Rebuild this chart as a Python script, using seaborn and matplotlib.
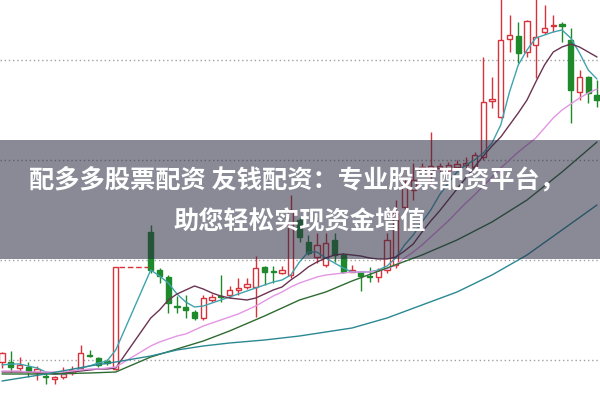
import numpy as np
import pandas as pd
import matplotlib
matplotlib.use('Agg')
import matplotlib.pyplot as plt
import seaborn as sns

nan = np.nan

# daily candles (price units, 3 suspended days as NaN)
opens = [38, 38, 32, 33, 28, 24, 21, 23, 27, 32,
         45, 42, 39, 31, nan, nan, nan, 168, 130, 123,
         94, 93, 88, 82, 100, 104, 105, 110, 113, 113,
         133, 129, 127, 125, 180, 158, 143, 135, 160, 145,
         128, 128, 124, 123, 130, 135, 193, 210, 228, 228,
         232, 230, 233, 235, 233, 243, 299, 283, 361, 364,
         348, 355, 368, 374, 376, 360, 308, 323, 305]
closes = [47, 33, 35, 28, 31, 23, 23, 26, 30, 47,
          44, 35, 37, 133, nan, nan, nan, 130, 124, 97,
          93, 90, 82, 102, 103, 103, 110, 112, 116, 132,
          128, 128, 130, 190, 163, 147, 155, 157, 145, 128,
          130, 124, 123, 130, 160, 187, 215, 220, 233, 234,
          234, 235, 236, 237, 245, 298, 301, 360, 365, 347,
          379, 363, 372, 375, 374, 310, 323, 307, 300]
highs = [48, 49, 43, 38, 34, 28, 24, 33, 34, 55,
         50, 43, 41, 133, nan, nan, nan, 175, 132, 125,
         104, 105, 90, 105, 106, 125, 114, 122, 122, 144,
         134, 134, 134, 205, 183, 165, 167, 167, 167, 147,
         135, 129, 133, 132, 167, 200, 222, 237, 237, 268,
         237, 238, 240, 243, 248, 343, 323, 402, 385, 378,
         380, 402, 395, 385, 378, 372, 330, 324, 320]
lows = [32, 28, 29, 23, 20, 16, 16, 21, 25, 30,
        43, 33, 35, 30, nan, nan, nan, 127, 117, 87,
        87, 82, 80, 80, 98, 98, 102, 105, 111, 83,
        115, 117, 126, 122, 158, 145, 137, 133, 138, 127,
        128, 109, 118, 118, 127, 132, 190, 200, 224, 215,
        228, 225, 230, 232, 232, 240, 292, 282, 348, 337,
        343, 322, 366, 368, 358, 277, 300, 297, 293]

# short moving averages, one value per day
ma5 = [35, 36, 36, 34, 32, 28, 26, 26, 27, 32,
       34, 37, 39, 50, nan, nan, nan, 130, 124, 117,
       106, 98, 93, 94, 97, 100, 103, 106, 109, 112,
       115, 118, 120, 125, 138, 148, 148, 142, 137, 132,
       128, 128, 128, 130, 134, 142, 155, 165, 178, 190,
       205, 217, 228, 235, 240, 247, 257, 275, 308, 335,
       350, 362, 365, 368, 370, 362, 347, 330, 321]
ma10 = [28, 28, 28, 28, 27, 27, 26, 27, 28, 29,
        30, 31, 31, 32, nan, nan, nan, 82, 90, 100,
        106, 110, 114, 111, 107, 104, 102, 101, 100, 102,
        106, 110, 113, 120, 126, 133, 138, 142, 145, 146,
        145, 144, 142, 141, 141, 143, 149, 156, 168, 179,
        189, 200, 211, 222, 233, 244, 254, 263, 275, 287,
        300, 318, 335, 348, 353, 356, 353, 348, 343]
ma20 = [29, 29, 29, 28, 28, 28, 28, 28, 29, 30,
        31, 31, 32, 33, nan, nan, nan, 54, 58, 61,
        64, 66, 70, 74, 77, 80, 83, 86, 90, 94,
        99, 104, 108, 113, 117, 120, 123, 125, 126, 127,
        128, 128, 128, 129, 131, 135, 142, 148, 155, 163,
        171, 179, 188, 197, 205, 214, 223, 232, 240, 248,
        255, 262, 272, 282, 290, 296, 302, 307, 311]

# long moving averages, read at a few days
long_days = [0, 5, 10, 13, 17, 20, 23, 26, 30, 34, 37, 40, 44, 48, 52, 56, 60, 64, 68]
ma30 = [26, 26, 27, 28, 43, 51, 59, 69, 84, 100, 108, 119, 132, 145, 160, 178, 200, 228, 258]
ma60 = [19, 26, 34, 38, 44, 50, 54, 57, 60, 64, 68, 72, 82, 95, 108, 125, 145, 170, 195]

grid_levels = [40, 140, 240, 340]
line1 = '配多多股票配资 友钱配资：专业股票配资平台，'
line2 = '助您轻松实现资金增值'

sns.set_style('white')
plt.rcParams['font.family'] = ['Noto Sans CJK SC', 'DejaVu Sans']

RED = '#d8323c'
GREEN = '#1e8a2c'

df = pd.DataFrame({'open': opens, 'close': closes, 'high': highs, 'low': lows})
df['day'] = np.arange(len(df))
candles = df.dropna()
up = candles['close'] >= candles['open']
colors = np.where(up, RED, GREEN)

fig = plt.figure(figsize=(6, 4), dpi=100)
ax = fig.add_axes([0, 0, 1, 1])

for lvl in grid_levels:
    ax.axhline(lvl, color='#a0a0a0', lw=1, ls=(0, (1, 2)), zorder=1)

# wicks then bodies (hollow red up candles, filled green down candles)
ax.vlines(candles['day'], candles['low'], candles['high'], colors=colors, lw=1, zorder=2)
bottom = candles[['open', 'close']].min(axis=1)
height = (candles['close'] - candles['open']).abs().clip(lower=1)
ax.bar(candles['day'], height, bottom=bottom, width=0.62,
       color=np.where(up, 'white', GREEN), edgecolor=colors, lw=1, zorder=3)

# dashed line over the suspended days
gap = df['close'].isna()
first_gap = df.index[gap][0]
last_gap = df.index[gap][-1]
prev_close = df['close'][first_gap - 1]
ax.hlines(prev_close, first_gap - 1 + 0.35, last_gap + 1 - 0.35,
          colors=RED, lw=1, linestyles=(0, (4, 2)), zorder=3)

days = np.arange(len(opens))
sns.lineplot(x=days, y=ma5, color='#3fa3ae', lw=1, ax=ax, zorder=4)
sns.lineplot(x=days, y=ma10, color='#6b3352', lw=1, ax=ax, zorder=4)
sns.lineplot(x=days, y=ma20, color='#e396e4', lw=1, ax=ax, zorder=4)
sns.lineplot(x=long_days, y=ma30, color='#2e6b30', lw=1, ax=ax, zorder=4)
sns.lineplot(x=long_days, y=ma60, color='#2a8893', lw=1, ax=ax, zorder=4)

ax.set_xlim(-2 / 8.75, 598 / 8.75)
ax.set_ylim(0, 400)
ax.axis('off')

# grey title banner
ax.axhspan(141, 260, color='#2a2a42', alpha=0.55, lw=0, zorder=5)
fig.text(0.495, 0.5475, line1, ha='center', va='center', color='white',
         fontsize=18.2, fontweight='bold', zorder=6)
fig.text(0.5, 0.445, line2, ha='center', va='center', color='white',
         fontsize=18.2, fontweight='bold', zorder=6)

fig.savefig('out.png', dpi=100)
